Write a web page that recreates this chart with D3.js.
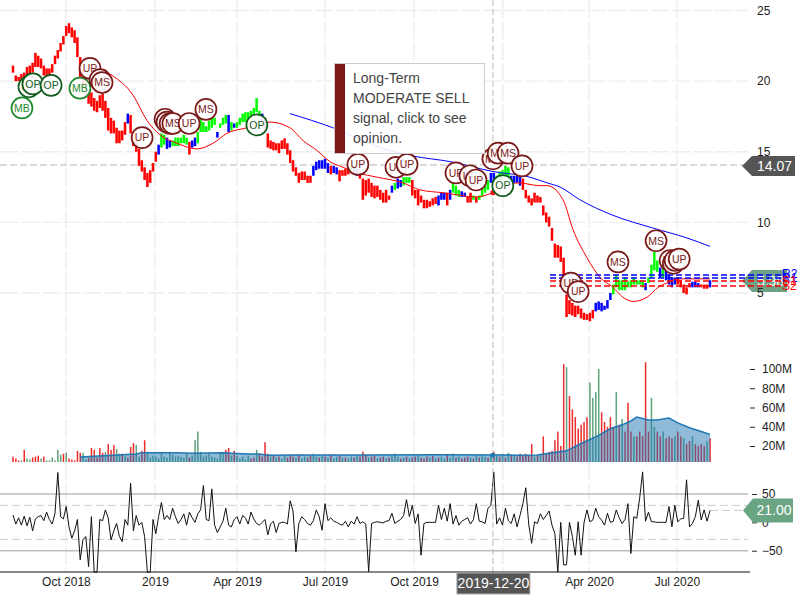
<!DOCTYPE html>
<html><head><meta charset="utf-8">
<script src="https://cdn.jsdelivr.net/npm/d3@7/dist/d3.min.js"></script>
<style>html,body{margin:0;padding:0;background:#fff}svg{display:block}text{font-family:"Liberation Sans",Arial,sans-serif}</style>
</head><body><svg id="c" width="800" height="600"></svg>
<script>
// price bars (one per two sessions)
const priceHigh=[21.1,20.4,20.3,20.5,20.6,21.0,21.1,21.3,22.0,21.8,
21.6,21.1,20.9,20.9,21.2,21.8,22.2,22.7,23.2,23.9,
24.1,23.8,23.6,23.1,21.7,20.8,20.4,19.4,19.2,18.8,
18.6,19.0,19.1,18.6,18.1,17.4,17.2,16.7,16.5,16.5,
17.1,17.7,17.6,16.4,15.8,15.2,14.4,13.9,13.5,13.7,
14.2,15.0,15.5,16.3,16.2,16.0,15.8,15.8,16.0,16.0,
16.0,16.2,16.0,15.7,15.8,16.0,16.4,17.4,17.1,16.8,
17.2,17.4,17.4,16.4,17.0,17.4,17.6,17.6,17.1,17.0,
17.1,17.4,17.7,17.8,17.8,17.9,18.1,18.8,17.9,17.7,
17.4,16.3,15.8,15.7,15.6,15.6,15.8,15.95,15.6,15.1,
14.4,13.9,13.5,13.6,13.6,13.3,13.3,14.0,14.3,14.4,
14.4,14.5,14.2,14.0,14.0,13.9,13.7,13.7,13.8,14.0,
14.0,14.0,13.8,13.6,13.1,13.0,13.1,12.8,12.6,12.6,
12.3,12.1,12.3,11.9,12.6,12.8,13.1,13.0,13.2,13.2,
13.2,13.0,12.3,12.3,11.9,11.6,11.6,11.5,11.7,11.8,
11.9,12.1,12.1,12.1,12.3,12.8,12.6,12.3,12.2,12.1,
11.8,12.1,11.9,11.8,11.9,12.4,12.8,13.0,13.5,13.5,
13.3,13.6,13.7,14.0,13.9,13.3,13.3,13.3,13.3,13.1,
12.3,11.9,11.7,12.1,11.9,11.8,11.2,10.7,10.4,9.6,
8.5,8.4,8.3,7.5,4.9,4.5,4.3,4.1,4.1,3.9,
3.6,3.5,3.6,3.8,4.3,4.4,4.3,4.1,4.5,5.0,
5.6,6.3,5.9,5.9,6.1,5.8,5.9,6.1,5.9,5.9,
5.9,5.7,6.1,7.0,7.9,7.3,6.8,7.0,6.8,6.3,
6.1,6.1,6.1,5.9,5.6,5.4,5.7,5.8,5.8,5.7,
5.6,5.6,5.6,5.9];
const priceLow=[20.6,20.0,20.0,20.0,20.2,20.3,20.4,20.6,21.0,21.0,
20.9,20.4,20.3,20.4,20.6,21.2,21.6,22.1,22.6,23.2,
23.4,23.1,22.7,21.7,20.1,19.5,19.0,18.4,18.2,17.9,
17.8,18.1,17.9,17.4,16.5,16.3,16.3,15.6,15.6,15.8,
16.2,17.0,16.3,15.4,15.0,14.0,13.6,13.0,12.5,12.8,
13.6,14.3,14.8,15.3,15.5,15.2,15.3,15.4,15.4,15.4,
15.6,15.6,15.5,14.8,15.3,15.4,15.6,16.4,16.4,16.4,
16.5,16.7,16.9,16.0,16.7,16.9,17.0,16.4,16.5,16.7,
16.7,16.9,17.1,17.1,17.2,17.4,17.6,17.8,17.4,17.2,
16.5,15.3,15.2,15.1,15.1,14.9,15.2,15.2,14.8,14.2,
13.6,13.3,12.8,13.0,13.0,12.8,12.8,13.3,13.7,13.8,
13.8,13.8,13.5,13.4,13.5,13.4,12.9,13.3,13.3,13.4,
13.5,13.5,13.3,13.1,11.6,11.9,12.1,11.8,11.7,11.8,
11.6,11.4,11.4,11.6,12.1,12.3,12.4,12.5,12.6,12.8,
12.8,11.9,11.7,11.2,11.4,11.0,11.0,11.1,11.2,11.3,
11.2,11.6,11.6,11.2,11.6,12.1,11.9,11.8,11.8,11.8,
11.4,11.4,11.6,11.4,11.6,11.8,12.1,12.3,12.8,12.8,
12.8,13.0,13.1,13.3,13.1,12.8,12.8,12.8,12.6,12.3,
11.7,11.4,11.2,11.4,11.4,11.4,10.5,10.0,9.7,8.7,
7.5,7.5,7.2,5.6,3.3,3.5,3.4,3.3,3.5,3.2,
3.1,3.1,3.0,3.2,3.7,3.8,3.7,3.8,3.9,4.5,
4.9,5.4,5.2,5.2,5.2,5.4,5.4,5.6,5.6,5.6,
5.4,5.2,5.7,6.1,6.6,6.5,6.1,6.1,5.9,5.6,
5.4,5.6,5.6,5.4,5.0,4.9,5.4,5.4,5.4,5.4,
5.4,5.3,5.3,5.4];
// regime colouring: first bar of each run and its colour
const regimeStart=[0,41,42,52,53,55,57,63,64,66,73,74,77,78,79,80,89,90,107,113,114,116,120,121,123,134,135,136,138,141,150,153,154,155,158,160,162,163,164,168,170,175,179,204,210,221,222,226,227,228,232,237,240,243];
const regimeName="rbrbgbgrbgbgbgbgbrbrbrgbrbgbgrbrbgbrgrgbgbrbgbgbgbrbrb";
// signed volume in millions: positive is an up session, negative a down session
const signedVolume=[-9,-7,-5,5,-16,7,6,-8,-9,-10,
7,-9,5,5,8,5,16,11,-12,13,
-7,-6,-5,-15,-13,13,6,-8,-18,-16,
-8,-18,-13,14,-22,-16,-21,17,12,-12,
10,-8,-19,-23,21,9,-15,-26,14,8,
10,9,7,13,9,8,14,11,9,10,
9,8,12,-8,10,26,35,14,9,10,
12,9,8,7,12,13,-16,-18,10,-15,
10,7,9,6,10,-7,-8,16,-11,-9,
-24,-12,9,-10,8,-9,7,10,-8,-11,
-9,8,-11,7,9,-8,-10,12,9,-8,
10,-9,8,-11,7,9,-10,8,-8,7,
9,-8,10,-9,-14,-11,8,-9,-10,7,
-8,-9,7,-8,10,12,9,-7,8,-9,
7,-8,-9,10,-8,-7,-9,8,-10,7,
-8,9,7,-11,8,12,-8,9,-7,-8,
-9,8,-7,10,-8,11,9,-8,12,-14,
10,-9,12,-8,13,-11,10,-9,-12,-10,
-12,-10,-22,9,-10,10,-30,-12,-14,-15,
-26,-35,-20,-105,102,-72,-58,-50,-38,-42,
-45,-50,86,70,76,100,-55,-45,-40,-50,
-40,76,-42,48,-35,-65,-35,30,-30,-35,
-30,-107,-35,70,40,-35,-30,35,-28,-30,
-28,30,-35,-30,28,-22,-25,30,-22,-20,
-22,-20,25,-28];
const volumeAvgBars=[24,44,46,58,64,75,78,84,88,91,100,125,150,177,184,194,198,205,209,213,216,218,222,225,229,232,236,240,243];
const volumeAvgValues=[8.6,11.7,13,13,12.5,13,12.5,11.7,11.7,10.5,10.6,10.6,10.8,10.5,10.7,15,21,31,38,42,46,50,47,47,49,44,39,35,32];
// commodity channel index
const cciValues=[13,-3,8,-5,11,-6,9,-15,6,10,
12,3,18,5,-3,16,88,10,6,28,
-8,-28,-15,5,-66,-30,-25,-78,10,-88,
-88,5,3,22,8,-31,-15,-2,-25,-34,
5,-5,69,-15,12,-5,0,-25,-88,-88,
5,-20,10,35,5,12,5,25,10,-2,
5,15,-5,18,8,0,15,22,65,5,
3,59,-5,-18,-8,2,25,-5,-8,5,
10,-3,12,8,-3,18,6,-2,-5,0,
5,-22,-3,2,-18,-2,0,0,-3,38,
20,-52,-2,10,5,-2,-5,3,22,10,
-14,33,3,8,2,0,-3,-5,2,-8,
2,-3,10,-2,1,-3,-87,-2,0,1,
0,-1,2,3,16,-2,2,5,12,40,
10,30,-2,15,-58,-2,0,0,0,0,
30,5,25,2,33,-3,12,-5,2,5,
8,-3,5,33,2,1,-2,25,30,89,
-3,8,-5,25,3,-2,15,-8,12,33,
61,-3,-37,1,-2,15,5,12,20,-5,
-20,-88,0,-75,-75,0,-25,-58,1,-58,
-1,22,1,4,25,10,4,-5,16,0,
2,22,8,-2,5,33,-55,10,7,43,
89,2,18,1,1,0,0,0,0,28,
-8,30,1,6,7,75,-8,-2,10,39,
4,22,2,21];
const cciBands=[50,-50];
const cciSoftBands=[30,-30];
// moving averages on the price pane
const shortAvgBars=[32,35.4,42.9,47.9,52.5,58.6,65.7,71.4,76.4,83.6,91.8,98.9,103.4,108.2,112.7,117.2,122.3,128.9,137.8,143.6,151.5,163.2,168.7,177.3,184.9,187.3,192.8,196.2,201,205.5,209.9,213.3,216.7,221.5,225.3,229.4,231.7,243];
const shortAvgValues=[20.8,20.4,19.0,17.2,16.2,15.6,15.2,15.6,16.3,16.7,17.1,16.7,15.8,15.1,14.3,13.9,13.5,13.2,12.8,12.3,12.1,11.8,12.1,12.8,12.6,12.6,11.6,9.5,7.5,6.1,5.4,4.7,4.4,4.7,5.4,5.8,6.0,6.0];
const longAvgBars=[98.9,113.7,129.9,141.2,154,168.7,181.4,187.3,191.8,198.6,209.9,223.5,235.1,243];
const longAvgValues=[17.7,16.7,15.3,14.7,14.3,13.6,13.2,12.8,12.5,11.6,10.5,9.6,8.9,8.3];
// signal badges
const signalLabels=["MB","OP","OP","OP","MB","UP","UP","MS","UP","UP","UP","UP","MS","UP","MS","OP","UP","UP","UP","UP","UP","UP","MS","MS","MS","UP","OP","UP","UP","MS","MS","UP","UP","UP","UP"];
const signalBars=[3.2,5.7,7.1,13.6,23.9,27.5,31.1,31.8,46.1,54.3,55,56.1,57.1,62.9,68.9,87.1,122.3,135.4,139.2,156,160.8,162.9,168.7,170.5,173.9,178.7,172.1,195.5,198,211.6,224.6,229.4,230.5,231.1,232.5];
const signalPrices=[18.1,19.6,19.8,19.7,19.5,20.9,20.1,19.9,16.0,17.3,17.1,17.0,17.0,17.0,18.0,16.9,14.1,13.9,14.1,13.5,13.3,13.0,14.5,14.9,14.9,14.0,12.6,5.7,5.1,7.2,8.7,7.3,7.1,7.3,7.4];
// pivots
const pivotNames=["R2","R1","S1","S2"];
const pivotValues=[6.27,6.06,5.85,5.5];
// axes
const priceTicks=[5,10,15,20,25];
const volumeTicks=[20,40,60,80,100];
const cciTicks=[50,0,-50];
const timeTickBars=[18.9,50.7,80,111,141.6,172.1,201.7,231.7];
const timeTickLabels=["Oct 2018","2019","Apr 2019","Jul 2019","Oct 2019","2020","Apr 2020","Jul 2020"];
const crossBar=168.7, crossDate="2019-12-20";
const lastPrice=14.07, lastPivotTag=5.98, lastCci=21.0;
const tipLines=["Long-Term","MODERATE SELL","signal, click to see","opinion."];

const svg=d3.select("#c");
const x=d3.scaleLinear().domain([0,100,200,243]).range([13,293,584,710]);
const yP=d3.scaleLinear().domain([5,25]).range([293,10.5]);
const yV=d3.scaleLinear().domain([20,100]).range([446,369]);
const yC=d3.scaleLinear().domain([-50,50]).range([550.7,494]);
const W=748, volBase=462, axisY=572;
const colors={r:"#ff0000",b:"#0000ff",g:"#00ff00"};
const regimeOf=i=>regimeName[d3.bisectRight(regimeStart,i)-1];

// grid
const grid=svg.append("g").attr("fill","none").attr("stroke","#eeeeee").attr("stroke-width",1.4).attr("stroke-dasharray","18,3");
grid.selectAll(".v").data(timeTickBars).join("line").attr("x1",d=>x(d)).attr("x2",d=>x(d)).attr("y1",0).attr("y2",axisY);
grid.selectAll(".h").data(priceTicks).join("line").attr("x1",0).attr("x2",W).attr("y1",d=>yP(d)).attr("y2",d=>yP(d));

// volume
svg.append("g").selectAll("rect").data(signedVolume).join("rect")
 .attr("x",(d,i)=>x(i)-0.7).attr("width",1.5)
 .attr("y",d=>Math.min(yV(Math.abs(d)),volBase-1)).attr("height",d=>volBase-Math.min(yV(Math.abs(d)),volBase-1))
 .attr("fill",d=>d>0?"#5fa27c":"#ee2b2b");
const volArea=d3.area().x(d=>x(d[0])).y0(volBase).y1(d=>yV(d[1]));
const volLine=d3.line().x(d=>x(d[0])).y(d=>yV(d[1]));
const volPts=volumeAvgBars.map((b,i)=>[b,volumeAvgValues[i]]);
svg.append("path").attr("d",volArea(volPts)).attr("fill","#1f77b4").attr("fill-opacity",0.5);
svg.append("path").attr("d",volLine(volPts)).attr("fill","none").attr("stroke","#1f77b4").attr("stroke-width",1.5);

// cci
const cg=svg.append("g");
cg.selectAll(".b").data(cciBands).join("line").attr("x1",0).attr("x2",W).attr("y1",d=>yC(d)).attr("y2",d=>yC(d)).attr("stroke","#bdbdbd").attr("stroke-width",1.6);
cg.selectAll(".s").data(cciSoftBands).join("line").attr("x1",0).attr("x2",W).attr("y1",d=>yC(d)).attr("y2",d=>yC(d)).attr("stroke","#cccccc").attr("stroke-dasharray","8,4");
cg.append("line").attr("x1",x(243)).attr("x2",744).attr("y1",yC(lastCci)).attr("y2",yC(lastCci)).attr("stroke","#cccccc").attr("stroke-dasharray","8,4");
cg.append("path").attr("d",d3.line().x((d,i)=>x(i)).y(d=>yC(d))(cciValues)).attr("fill","none").attr("stroke","#111").attr("stroke-width",1);

// crosshair + last price line
svg.append("line").attr("x1",x(crossBar)).attr("x2",x(crossBar)).attr("y1",0).attr("y2",axisY).attr("stroke","#bbb").attr("stroke-dasharray","6,3");
svg.append("line").attr("x1",0).attr("x2",744).attr("y1",yP(lastPrice)).attr("y2",yP(lastPrice)).attr("stroke","#cfcfcf").attr("stroke-width",1.5).attr("stroke-dasharray","7,3");

// price bars
svg.append("g").selectAll("rect").data(priceHigh).join("rect")
 .attr("x",(d,i)=>x(i)-1.25).attr("width",2.5)
 .attr("y",d=>yP(d)).attr("height",(d,i)=>yP(priceLow[i])-yP(d))
 .attr("fill",(d,i)=>colors[regimeOf(i)]);

// moving averages
const pLine=d3.line().x(d=>x(d[0])).y(d=>yP(d[1])).curve(d3.curveMonotoneX);
svg.append("path").attr("d",pLine(longAvgBars.map((b,i)=>[b,longAvgValues[i]]))).attr("fill","none").attr("stroke","#0000ff").attr("stroke-width",1);
svg.append("path").attr("d",pLine(shortAvgBars.map((b,i)=>[b,shortAvgValues[i]]))).attr("fill","none").attr("stroke","#ff0000").attr("stroke-width",1);
svg.append("circle").attr("cx",x(crossBar)).attr("cy",yP(12.1)).attr("r",2.6).attr("fill","#e81c1c");
svg.append("circle").attr("cx",x(crossBar)).attr("cy",yV(10.6)).attr("r",2.4).attr("fill","#1f77b4");

// right-side tag for pivot
const tag=(vy,l,r,h,fill,txt)=>{
 svg.append("path").attr("d",d3.line()([[l,vy],[l+10,vy-h/2],[r,vy-h/2],[r,vy+h/2],[l+10,vy+h/2]])+"Z").attr("fill",fill);
 svg.append("text").attr("x",(l+10+r)/2+1).attr("y",vy+5).attr("text-anchor","middle").attr("font-size",14).attr("fill","#fff").text(txt);
};
tag(yP(5.85),742,787,22,"#6fa186",lastPivotTag.toFixed(2));

// pivots
const pv=svg.append("g");
pv.selectAll("line").data(pivotValues).join("line").attr("x1",550).attr("x2",786)
 .attr("y1",d=>yP(d)).attr("y2",d=>yP(d)).attr("stroke",(d,i)=>i<2?"#0000ff":"#ff0000").attr("stroke-width",1.5).attr("stroke-dasharray","6,3");
pv.selectAll("text").data(pivotNames).join("text").attr("x",782).attr("y",(d,i)=>yP(pivotValues[i])+(i==0?3:4))
 .attr("font-size",12).attr("fill",(d,i)=>i<2?"#0000ff":"#ff0000").text(d=>d);

// signals
const sigStyle=l=>l==="MB"?"#1d8a2e":l==="OP"?"#125c1e":"#7a1a1a";
const sg=svg.append("g").selectAll("g").data(signalLabels).join("g")
 .attr("transform",(d,i)=>`translate(${x(signalBars[i])},${yP(signalPrices[i])})`);
sg.append("circle").attr("r",10.5).attr("fill","#fff").attr("fill-opacity",0.9).attr("stroke",sigStyle).attr("stroke-width",1.7);
sg.append("text").attr("text-anchor","middle").attr("y",3.8).attr("font-size",10.5).attr("fill",sigStyle).text(d=>d);

// tooltip
const tip=svg.append("g");
tip.append("rect").attr("x",334.5).attr("y",63.5).attr("width",150).attr("height",90).attr("fill","#fff").attr("fill-opacity",0.9).attr("stroke","#ccc");
tip.append("rect").attr("x",335).attr("y",64).attr("width",10).attr("height",89).attr("fill","#7f1a1a");
tip.selectAll("text").data(tipLines).join("text").attr("x",353).attr("y",(d,i)=>82.5+i*20).attr("font-size",14).attr("fill","#444").text(d=>d);

// axes
const sty=g=>{g.select(".domain").remove();g.selectAll("text").attr("font-size",12).attr("fill","#222").attr("font-family",'"Liberation Sans",Arial,sans-serif');g.selectAll("line").attr("stroke","#222");};
svg.append("g").attr("transform","translate(757,0)").call(d3.axisRight(yP).tickValues(priceTicks).tickSize(0).tickPadding(0)).call(sty);
svg.append("g").attr("transform","translate(750,0)").call(d3.axisRight(yV).tickValues(volumeTicks).tickFormat(d=>d+"M").tickSize(5).tickPadding(7)).call(sty);
svg.append("g").attr("transform","translate(752,0)").call(d3.axisRight(yC).tickValues(cciTicks).tickSize(5).tickPadding(5)).call(sty);
const xAx=svg.append("g").attr("transform",`translate(0,${axisY})`).call(d3.axisBottom(x).tickValues(timeTickBars).tickFormat((d,i)=>timeTickLabels[i]).tickSize(0).tickPadding(5)).call(sty);
svg.append("line").attr("x1",0).attr("x2",750).attr("y1",axisY).attr("y2",axisY).attr("stroke","#111");

// cci tag, last price tag, date box
tag(yC(lastCci),743,793,24,"#6aa583",lastCci.toFixed(2));
tag(yP(lastPrice)+1,742,795,20,"#555555",lastPrice.toFixed(2));
svg.append("rect").attr("x",x(crossBar)-36).attr("y",573).attr("width",73).attr("height",21).attr("fill","#555").attr("stroke","#aaa");
svg.append("text").attr("x",x(crossBar)+0.5).attr("y",588).attr("text-anchor","middle").attr("font-size",14).attr("fill","#fff").text(crossDate);
</script></body></html>
